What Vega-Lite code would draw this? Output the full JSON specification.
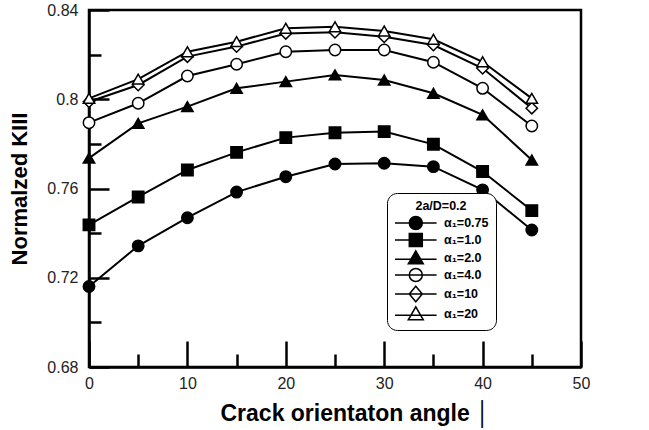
{
  "$schema": "https://vega.github.io/schema/vega-lite/v6.json",
  "width": 492,
  "height": 357,
  "autosize": {"type": "none"},
  "padding": {"left": 89, "top": 10, "right": 68, "bottom": 63},
  "background": "white",
  "config": {
    "view": {"stroke": "black", "strokeWidth": 2.5},
    "font": "Liberation Sans",
    "axis": {
      "domainColor": "black", "domainWidth": 2.5,
      "tickColor": "black", "tickWidth": 2.5,
      "grid": false,
      "labelFont": "Liberation Sans", "labelFontSize": 16, "labelColor": "#222",
      "titleFont": "Liberation Sans", "titleFontWeight": "bold", "titleColor": "black"
    }
  },
  "data": {"values": [
    {"angle": 0, "alpha": "0.75", "k": 0.7161},
    {"angle": 5, "alpha": "0.75", "k": 0.7343},
    {"angle": 10, "alpha": "0.75", "k": 0.7469},
    {"angle": 15, "alpha": "0.75", "k": 0.7584},
    {"angle": 20, "alpha": "0.75", "k": 0.7653},
    {"angle": 25, "alpha": "0.75", "k": 0.7710},
    {"angle": 30, "alpha": "0.75", "k": 0.7713},
    {"angle": 35, "alpha": "0.75", "k": 0.7698},
    {"angle": 40, "alpha": "0.75", "k": 0.7594},
    {"angle": 45, "alpha": "0.75", "k": 0.7414},
    {"angle": 0, "alpha": "1.0", "k": 0.7437},
    {"angle": 5, "alpha": "1.0", "k": 0.7562},
    {"angle": 10, "alpha": "1.0", "k": 0.7683},
    {"angle": 15, "alpha": "1.0", "k": 0.7762},
    {"angle": 20, "alpha": "1.0", "k": 0.7828},
    {"angle": 25, "alpha": "1.0", "k": 0.7850},
    {"angle": 30, "alpha": "1.0", "k": 0.7855},
    {"angle": 35, "alpha": "1.0", "k": 0.7798},
    {"angle": 40, "alpha": "1.0", "k": 0.7676},
    {"angle": 45, "alpha": "1.0", "k": 0.7501},
    {"angle": 0, "alpha": "2.0", "k": 0.7736},
    {"angle": 5, "alpha": "2.0", "k": 0.7892},
    {"angle": 10, "alpha": "2.0", "k": 0.7967},
    {"angle": 15, "alpha": "2.0", "k": 0.8049},
    {"angle": 20, "alpha": "2.0", "k": 0.8079},
    {"angle": 25, "alpha": "2.0", "k": 0.8109},
    {"angle": 30, "alpha": "2.0", "k": 0.8086},
    {"angle": 35, "alpha": "2.0", "k": 0.8027},
    {"angle": 40, "alpha": "2.0", "k": 0.7930},
    {"angle": 45, "alpha": "2.0", "k": 0.7728},
    {"angle": 0, "alpha": "4.0", "k": 0.7895},
    {"angle": 5, "alpha": "4.0", "k": 0.7982},
    {"angle": 10, "alpha": "4.0", "k": 0.8104},
    {"angle": 15, "alpha": "4.0", "k": 0.8157},
    {"angle": 20, "alpha": "4.0", "k": 0.8213},
    {"angle": 25, "alpha": "4.0", "k": 0.8221},
    {"angle": 30, "alpha": "4.0", "k": 0.8221},
    {"angle": 35, "alpha": "4.0", "k": 0.8166},
    {"angle": 40, "alpha": "4.0", "k": 0.8049},
    {"angle": 45, "alpha": "4.0", "k": 0.7880},
    {"angle": 0, "alpha": "10", "k": 0.7989},
    {"angle": 5, "alpha": "10", "k": 0.8064},
    {"angle": 10, "alpha": "10", "k": 0.8191},
    {"angle": 15, "alpha": "10", "k": 0.8236},
    {"angle": 20, "alpha": "10", "k": 0.8295},
    {"angle": 25, "alpha": "10", "k": 0.8300},
    {"angle": 30, "alpha": "10", "k": 0.8280},
    {"angle": 35, "alpha": "10", "k": 0.8243},
    {"angle": 40, "alpha": "10", "k": 0.8139},
    {"angle": 45, "alpha": "10", "k": 0.7960},
    {"angle": 0, "alpha": "20", "k": 0.8004},
    {"angle": 5, "alpha": "20", "k": 0.8090},
    {"angle": 10, "alpha": "20", "k": 0.8213},
    {"angle": 15, "alpha": "20", "k": 0.8258},
    {"angle": 20, "alpha": "20", "k": 0.8318},
    {"angle": 25, "alpha": "20", "k": 0.8325},
    {"angle": 30, "alpha": "20", "k": 0.8306},
    {"angle": 35, "alpha": "20", "k": 0.8269},
    {"angle": 40, "alpha": "20", "k": 0.8168},
    {"angle": 45, "alpha": "20", "k": 0.8004}
  ]},
  "resolve": {"axis": {"x": "independent", "y": "independent"}},
  "layer": [
    {
      "mark": {"type": "line", "stroke": "black", "strokeWidth": 2},
      "encoding": {
        "x": {
          "field": "angle", "type": "quantitative",
          "scale": {"domain": [0, 50], "nice": false},
          "axis": {
            "orient": "bottom",
            "values": [0, 10, 20, 30, 40, 50],
            "tickSize": -26,
            "labelPadding": 34,
            "labelFlush": false,
            "title": "Crack orientaton angle │",
            "titleFontSize": 23,
            "titlePadding": 11,
            "titleX": 266,
            "titleAlign": "center"
          }
        },
        "y": {
          "field": "k", "type": "quantitative",
          "scale": {"domain": [0.68, 0.84], "nice": false, "zero": false},
          "axis": {
            "orient": "left",
            "values": [0.68, 0.72, 0.76, 0.8, 0.84],
            "labelExpr": "format(datum.value, '.2~f')",
            "tickSize": -20,
            "labelPadding": 31,
            "labelFlush": false,
            "title": "Normalzed KIII",
            "titleFontSize": 22,
            "titlePadding": 15
          }
        },
        "detail": {"field": "alpha"}
      }
    },
    {
      "mark": {"type": "point", "filled": true, "stroke": "black", "strokeWidth": 1.5, "size": 130, "opacity": 1},
      "encoding": {
        "x": {
          "field": "angle", "type": "quantitative",
          "scale": {"domain": [0, 50], "nice": false},
          "axis": {
            "orient": "bottom",
            "values": [5, 15, 25, 35, 45],
            "tickSize": -13,
            "labels": false,
            "domain": false,
            "title": null
          }
        },
        "y": {
          "field": "k", "type": "quantitative",
          "scale": {"domain": [0.68, 0.84], "nice": false, "zero": false},
          "axis": {
            "orient": "left",
            "values": [0.7, 0.74, 0.78, 0.82],
            "tickSize": -12,
            "labels": false,
            "domain": false,
            "title": null
          }
        },
        "shape": {
          "field": "alpha", "type": "nominal",
          "sort": ["0.75", "1.0", "2.0", "4.0", "10", "20"],
          "scale": {"range": ["circle", "square", "triangle-up", "circle", "diamond", "triangle-up"]},
          "legend": null
        },
        "fill": {
          "field": "alpha", "type": "nominal",
          "scale": {"domain": ["0.75", "1.0", "2.0", "4.0", "10", "20"], "range": ["black", "black", "black", "white", "white", "white"]},
          "legend": {
            "title": "2a/D=0.2", "orient": "none", "legendX": 298, "legendY": 183,
            "labelExpr": "'α₁=' + datum.label + '\u00a0\u00a0\u00a0\u00a0'",
            "symbolType": {"expr": "datum.value === '0.75' || datum.value === '4.0' ? 'M-1,0H5.4M1.2,0A1,1,0,1,0,3.2,0A1,1,0,1,0,1.2,0Z' : datum.value === '1.0' ? 'M-1,0H5.4M1.2,-1H3.2V1H1.2Z' : datum.value === '10' ? 'M-1,0H5.4M2.2,-1.2L3.2,0L2.2,1.2L1.2,0Z' : 'M-1,0.2H5.4M2.2,-1.1L3.35,0.9H1.05Z'"},
            "symbolSize": 169, "labelOffset": 35, "rowPadding": -2,
            "padding": 7, "cornerRadius": 10, "strokeColor": "black", "fillColor": "white",
            "titleAnchor": "middle", "titlePadding": 3, "titleFontSize": 12.5, "titleFontWeight": "bold", "titleColor": "black",
            "labelFontSize": 12.5, "labelFontWeight": "bold", "labelColor": "black",
            "symbolStrokeColor": "black", "symbolStrokeWidth": 1.5,
            "encode": {"symbols": {
              "stroke": {"value": "black"},
              "strokeWidth": {"value": 1.5}
            }}
          }
        }
      }
    }
  ]
}
